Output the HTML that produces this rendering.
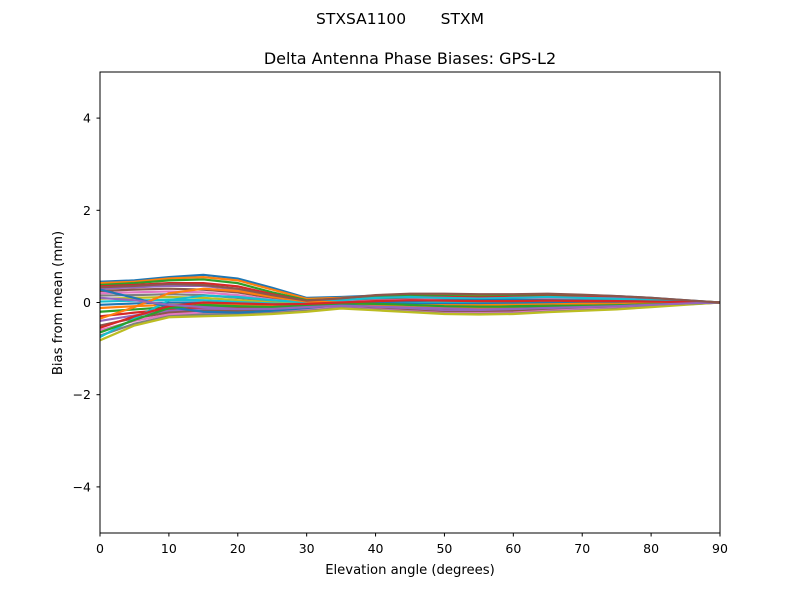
<!DOCTYPE html>
<html><head><meta charset="utf-8"><style>
body{margin:0;background:#fff}
svg text{font-family:"DejaVu Sans","Liberation Sans",sans-serif;fill:#000}
</style></head><body>
<svg id="chart" width="800" height="600" xmlns="http://www.w3.org/2000/svg">
<text x="400" y="24" font-size="15.5" text-anchor="middle" xml:space="preserve">STXSA1100       STXM</text>
<text x="410" y="64" font-size="16" text-anchor="middle">Delta Antenna Phase Biases: GPS-L2</text>
<g id="lines"></g>
<rect x="100" y="72" width="620" height="461" fill="none" stroke="#000" stroke-width="1"/>
<g id="ticks"></g>
<text x="410" y="574" font-size="13.2" text-anchor="middle">Elevation angle (degrees)</text>
<text transform="translate(62,303) rotate(-90)" font-size="13.2" text-anchor="middle">Bias from mean (mm)</text>
</svg>
<script>
const elevations=[0,5,10,15,20,25,30,35,40,45,50,55,60,65,70,75,80,85,90];
const xTicks=[0,10,20,30,40,50,60,70,80,90];
const yTicks=[-4,-2,0,2,4];
const yTickLabels=["\u22124","\u22122","0","2","4"];
const s1=[0.45,0.48,0.55,0.60,0.52,0.32,0.10,0.12,0.15,0.18,0.18,0.17,0.17,0.18,0.16,0.14,0.10,0.05,0];
const s2=[0.42,0.45,0.52,0.55,0.48,0.28,0.08,0.10,0.14,0.17,0.16,0.15,0.16,0.17,0.15,0.13,0.09,0.04,0];
const s3=[0.38,0.42,0.48,0.50,0.42,0.22,0.05,0.08,0.12,0.15,0.14,0.13,0.14,0.15,0.14,0.12,0.08,0.04,0];
const s4=[0.35,0.38,0.42,0.42,0.35,0.18,0.03,0.06,0.10,0.12,0.12,0.11,0.12,0.13,0.12,0.10,0.07,0.03,0];
const s5=[0.30,0.33,0.36,0.36,0.28,0.14,0.02,0.04,0.08,0.10,0.10,0.09,0.10,0.11,0.10,0.09,0.06,0.03,0];
const s6=[0.25,0.28,0.30,0.28,0.22,0.10,0.00,0.02,0.06,0.08,0.08,0.07,0.08,0.09,0.08,0.07,0.05,0.02,0];
const s7=[0.20,0.22,0.24,0.22,0.16,0.06,-0.01,0.01,0.04,0.06,0.06,0.05,0.06,0.07,0.06,0.06,0.04,0.02,0];
const s8=[0.15,0.16,0.18,0.16,0.10,0.03,-0.02,0.00,0.02,0.04,0.04,0.03,0.04,0.05,0.05,0.04,0.03,0.01,0];
const s9=[0.08,0.10,0.12,0.10,0.05,0.00,-0.03,-0.01,0.00,0.02,0.02,0.01,0.02,0.03,0.03,0.03,0.02,0.01,0];
const s10=[0.02,0.04,0.06,0.05,0.01,-0.02,-0.04,-0.02,-0.02,0.00,0.00,-0.01,0.00,0.01,0.01,0.01,0.01,0.00,0];
const s11=[-0.05,-0.02,0.00,0.00,-0.03,-0.05,-0.05,-0.04,-0.04,-0.03,-0.03,-0.03,-0.02,-0.01,-0.01,-0.01,0.00,0.00,0];
const s12=[-0.12,-0.08,-0.05,-0.04,-0.06,-0.08,-0.07,-0.05,-0.06,-0.06,-0.06,-0.06,-0.05,-0.04,-0.03,-0.03,-0.02,-0.01,0];
const s13=[-0.20,-0.15,-0.10,-0.08,-0.10,-0.10,-0.08,-0.06,-0.08,-0.09,-0.10,-0.10,-0.08,-0.07,-0.06,-0.05,-0.03,-0.01,0];
const s14=[-0.30,-0.22,-0.15,-0.12,-0.13,-0.13,-0.10,-0.08,-0.10,-0.12,-0.14,-0.14,-0.12,-0.10,-0.08,-0.07,-0.05,-0.02,0];
const s15=[-0.40,-0.28,-0.18,-0.15,-0.16,-0.16,-0.12,-0.09,-0.12,-0.15,-0.18,-0.18,-0.16,-0.13,-0.11,-0.09,-0.06,-0.03,0];
const s16=[-0.50,-0.34,-0.22,-0.18,-0.19,-0.19,-0.14,-0.10,-0.14,-0.17,-0.21,-0.21,-0.19,-0.16,-0.13,-0.11,-0.07,-0.03,0];
const s17=[-0.60,-0.40,-0.26,-0.22,-0.22,-0.21,-0.16,-0.11,-0.15,-0.19,-0.23,-0.23,-0.22,-0.18,-0.15,-0.13,-0.08,-0.04,0];
const s18=[-0.72,-0.46,-0.30,-0.26,-0.26,-0.23,-0.18,-0.12,-0.16,-0.20,-0.24,-0.25,-0.24,-0.20,-0.17,-0.14,-0.09,-0.04,0];
const s19=[-0.82,-0.50,-0.32,-0.30,-0.28,-0.25,-0.20,-0.13,-0.17,-0.21,-0.25,-0.26,-0.25,-0.21,-0.18,-0.15,-0.10,-0.05,0];
const s20=[-0.75,-0.35,0.05,0.15,0.12,0.05,0.00,0.05,0.10,0.12,0.10,0.08,0.10,0.12,0.10,0.08,0.05,0.02,0];
const s21=[0.28,0.10,-0.10,-0.20,-0.22,-0.18,-0.12,-0.05,0.00,0.03,0.05,0.05,0.06,0.05,0.04,0.03,0.02,0.01,0];
const s22=[-0.35,-0.10,0.20,0.30,0.25,0.12,0.02,0.00,-0.05,-0.10,-0.12,-0.12,-0.10,-0.08,-0.06,-0.05,-0.03,-0.01,0];
const s23=[-0.65,-0.38,-0.12,-0.05,-0.08,-0.10,-0.06,-0.02,-0.03,-0.05,-0.08,-0.09,-0.09,-0.08,-0.07,-0.06,-0.04,-0.02,0];
const s24=[-0.55,-0.30,-0.08,0.00,-0.02,-0.04,-0.03,0.00,0.03,0.05,0.04,0.03,0.03,0.04,0.03,0.03,0.02,0.01,0];
const s25=[0.10,0.05,-0.05,-0.10,-0.14,-0.14,-0.10,-0.07,-0.09,-0.11,-0.13,-0.15,-0.14,-0.12,-0.10,-0.08,-0.05,-0.02,0];
const s26=[0.33,0.36,0.40,0.38,0.30,0.16,0.04,0.09,0.16,0.19,0.19,0.18,0.18,0.19,0.17,0.14,0.10,0.05,0];
const series=[s1,s2,s3,s4,s5,s6,s7,s8,s9,s10,s11,s12,s13,s14,s15,s16,s17,s18,s19,s20,s21,s22,s23,s24,s25,s26];
const colors=["#1f77b4","#ff7f0e","#2ca02c","#d62728","#9467bd","#8c564b","#e377c2","#7f7f7f","#bcbd22","#17becf"];
const NS="http://www.w3.org/2000/svg";
const xs=v=>100+v/90*620;
const ys=v=>302.5-v*46.1;
const lg=document.getElementById('lines');
series.forEach((s,i)=>{
  const p=document.createElementNS(NS,'polyline');
  p.setAttribute('points',s.map((v,j)=>xs(elevations[j])+','+ys(v)).join(' '));
  p.setAttribute('fill','none');
  p.setAttribute('stroke',colors[i%10]);
  p.setAttribute('stroke-width','2.2');
  
  
  lg.appendChild(p);
});
const tg=document.getElementById('ticks');
xTicks.forEach(t=>{
  const l=document.createElementNS(NS,'line');
  l.setAttribute('x1',xs(t));l.setAttribute('x2',xs(t));l.setAttribute('y1',533);l.setAttribute('y2',536.5);
  l.setAttribute('stroke','#000');
  
  
  tg.appendChild(l);
  const tx=document.createElementNS(NS,'text');
  tx.setAttribute('x',xs(t));tx.setAttribute('y',553);tx.setAttribute('font-size','12.5');tx.setAttribute('text-anchor','middle');
  tx.textContent=t;
  
  
  tg.appendChild(tx);
});
yTicks.forEach((t,i)=>{
  const l=document.createElementNS(NS,'line');
  l.setAttribute('x1',96.5);l.setAttribute('x2',100);l.setAttribute('y1',ys(t));l.setAttribute('y2',ys(t));
  l.setAttribute('stroke','#000');
  
  
  tg.appendChild(l);
  const tx=document.createElementNS(NS,'text');
  tx.setAttribute('x',91);tx.setAttribute('y',ys(t)+4.5);tx.setAttribute('font-size','12.5');tx.setAttribute('text-anchor','end');
  tx.textContent=yTickLabels[i];
  
  
  tg.appendChild(tx);
});
</script>
</body></html>
